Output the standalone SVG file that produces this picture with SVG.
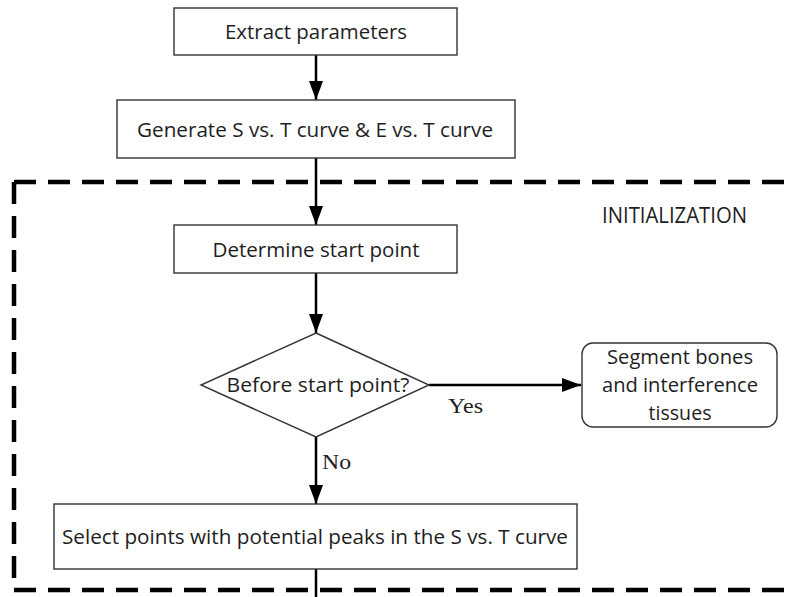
<svg xmlns="http://www.w3.org/2000/svg" width="785" height="597" viewBox="0 0 785 597">
  <defs>
    <marker id="arrow" markerUnits="userSpaceOnUse" markerWidth="20" markerHeight="14" refX="19" refY="7" orient="auto">
      <path d="M0,0 L19,7 L0,14 Z" fill="#000"/>
    </marker>
    <style>
      .box { fill: #fff; stroke: #333; stroke-width: 1.4; }
      .lbl { font-family: "Open Sans", "Liberation Sans", sans-serif; font-size: 20px; fill: #1e1e1e; text-anchor: middle; }
      .edge { stroke: #000; stroke-width: 2.5; fill: none; }
      .cond { font-family: "Liberation Serif", "Times New Roman", serif; font-size: 22px; fill: #1e1e1e; }
      .frame { stroke: #000; stroke-width: 4.5; fill: none; stroke-dasharray: 22 12; }
    </style>
  </defs>

  <rect width="785" height="597" fill="#fff"/>

  <!-- initialization frame (dashed, open on the right) -->
  <g id="initialization">
    <path class="frame" d="M14,182 H785"/>
    <path class="frame" d="M14,182 V590"/>
    <path class="frame" d="M14,590 H785"/>
    <text x="602" y="223" font-family="'Open Sans', 'Liberation Sans', sans-serif" font-size="21" fill="#1e1e1e" textLength="145" lengthAdjust="spacingAndGlyphs">INITIALIZATION</text>
  </g>

  <!-- connectors -->
  <g id="connectors">
    <path class="edge" d="M316,55 V100" marker-end="url(#arrow)"/>
    <path class="edge" d="M316,158 V225" marker-end="url(#arrow)"/>
    <path class="edge" d="M316,273 V333" marker-end="url(#arrow)"/>
    <path class="edge" d="M429,385 H581" marker-end="url(#arrow)"/>
    <path class="edge" d="M316,437 V504" marker-end="url(#arrow)"/>
    <path class="edge" d="M316,569 V597"/>
    <text class="cond" x="448" y="413" textLength="35" lengthAdjust="spacingAndGlyphs">Yes</text>
    <text class="cond" x="322" y="469" textLength="29" lengthAdjust="spacingAndGlyphs">No</text>
  </g>

  <g id="extract">
    <rect class="box" x="174" y="8" width="283" height="47"/>
    <text class="lbl" x="316" y="39" textLength="182" lengthAdjust="spacingAndGlyphs">Extract parameters</text>
  </g>

  <g id="generate">
    <rect class="box" x="117" y="100" width="398" height="58"/>
    <text class="lbl" x="315" y="137" textLength="356" lengthAdjust="spacingAndGlyphs">Generate S vs. T curve &amp; E vs. T curve</text>
  </g>

  <g id="start-point">
    <rect class="box" x="174" y="225" width="283" height="48"/>
    <text class="lbl" x="316" y="257" textLength="207" lengthAdjust="spacingAndGlyphs">Determine start point</text>
  </g>

  <g id="decision">
    <polygon class="box" points="316,333 429,385 316,437 201,385"/>
    <text class="lbl" x="318" y="392" textLength="183" lengthAdjust="spacingAndGlyphs">Before start point?</text>
  </g>

  <g id="segment">
    <rect class="box" x="582" y="343" width="195" height="84" rx="11" ry="11"/>
    <text class="lbl" x="680" y="364" textLength="146" lengthAdjust="spacingAndGlyphs">Segment bones</text>
    <text class="lbl" x="680" y="392" textLength="156" lengthAdjust="spacingAndGlyphs">and interference</text>
    <text class="lbl" x="680" y="420" textLength="63" lengthAdjust="spacingAndGlyphs">tissues</text>
  </g>

  <g id="select-peaks">
    <rect class="box" x="54" y="504" width="523" height="65"/>
    <text class="lbl" x="315" y="544" textLength="506" lengthAdjust="spacingAndGlyphs">Select points with potential peaks in the S vs. T curve</text>
  </g>
</svg>
